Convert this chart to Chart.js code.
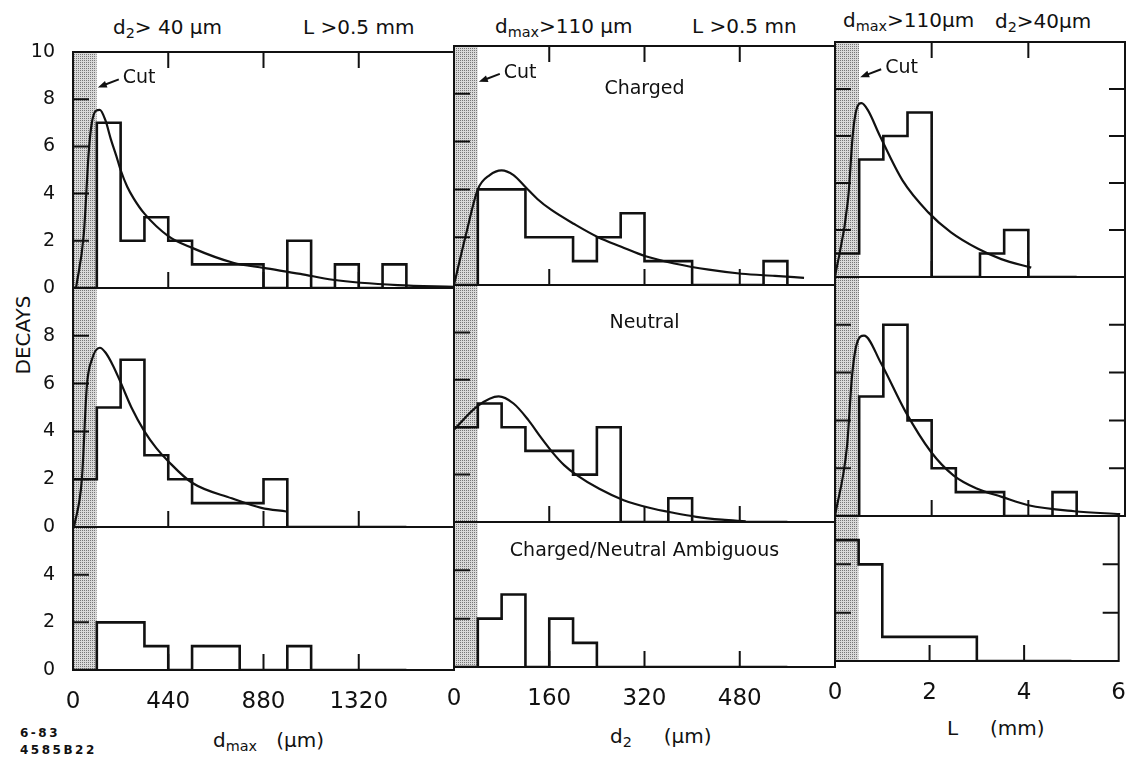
<!DOCTYPE html>
<html lang="en">
<head>
<meta charset="UTF-8">
<title>Decay length distributions</title>
<script src="https://cdn.jsdelivr.net/npm/chart.js"></script>
<style>
  body { margin: 0; background: #fff; }
  #wrap { position: relative; width: 1144px; height: 764px; font-family: 'DejaVu Sans', sans-serif; color: #111; }
  #wrap canvas { position: absolute; left: 0; top: 0; }
  .t { position: absolute; font-size: 20px; line-height: 20px; white-space: nowrap; }
  .t sub { font-size: 0.72em; position: relative; top: 0.3em; vertical-align: baseline; line-height: 0; }
  #decays { left: 23px; top: 335px; transform: translate(-50%, -50%) rotate(-90deg); }
  .note { position: absolute; left: 20px; top: 725px; font-size: 12px; font-weight: bold; letter-spacing: 2.5px; line-height: 17px; }
</style>
</head>
<body>
<div id="wrap">
  <div class="t" style="left:113px;top:17px">d<sub>2</sub>&gt; 40 μm</div>
  <div class="t" style="left:303px;top:17px">L &gt;0.5 mm</div>
  <div class="t" style="left:495px;top:16px">d<sub>max</sub>&gt;110 μm</div>
  <div class="t" style="left:692px;top:16px">L &gt;0.5 mn</div>
  <div class="t" style="left:843px;top:10px">d<sub>max</sub>&gt;110μm</div>
  <div class="t" style="left:995px;top:11px">d<sub>2</sub>&gt;40μm</div>
  <div class="t" id="decays">DECAYS</div>
  <div class="t" style="left:213px;top:730px">d<sub>max</sub>&nbsp;&nbsp;&nbsp;(μm)</div>
  <div class="t" style="left:610px;top:726px">d<sub>2</sub>&nbsp;&nbsp;&nbsp;&nbsp;&nbsp;(μm)</div>
  <div class="t" style="left:947px;top:718px">L&nbsp;&nbsp;&nbsp;&nbsp;&nbsp;(mm)</div>
  <div class="note">6-83<br>4585B22</div>
</div>

<script>
  const ink = '#111';
  const font = "'DejaVu Sans', sans-serif";

  // bin edges (um, um, mm)
  const dmaxEdges = [0, 110, 220, 330, 440, 550, 660, 770, 880, 990, 1100, 1210, 1320, 1430, 1540];
  const d2Edges = [0, 40, 80, 120, 160, 200, 240, 280, 320, 360, 400, 440, 480, 520, 560];
  const lEdges = [0, 0.5, 1, 1.5, 2, 2.5, 3, 3.5, 4, 4.5, 5];

  // decays per bin
  const chargedDmax = [0, 7, 2, 3, 2, 1, 1, 1, 0, 2, 0, 1, 0, 1];
  const neutralDmax = [2, 5, 7, 3, 2, 1, 1, 1, 2, 0, 0, 0, 0, 0];
  const ambigDmax = [0, 2, 2, 1, 0, 1, 1, 0, 0, 1, 0, 0, 0, 0];
  const chargedD2 = [0, 4, 4, 2, 2, 1, 2, 3, 1, 1, 0, 0, 0, 1];
  const neutralD2 = [4, 5, 4, 3, 3, 2, 4, 0, 0, 1, 0, 0, 0, 0];
  const ambigD2 = [0, 2, 3, 0, 2, 1, 0, 0, 0, 0, 0, 0, 0, 0];
  const chargedL = [1, 5, 6, 7, 0, 0, 1, 2, 0, 0];
  const neutralL = [0, 5, 8, 4, 2, 1, 1, 0, 0, 1];
  const ambigL = [5, 4, 1, 1, 1, 1, 0, 0, 0, 0];

  // fitted curves, [x, decays]
  const fitChargedDmax = [[14, 0], [50, 2.3], [73, 5.8], [87, 7.0], [105, 7.5], [124, 7.55], [150, 7.1], [175, 6.3], [200, 5.6], [220, 5.0], [250, 4.3], [280, 3.8], [330, 3.15], [440, 2.2], [550, 1.7], [740, 1.07], [880, 0.85], [1050, 0.6], [1200, 0.35], [1500, 0.12], [1760, 0.05]];
  const fitNeutralDmax = [[5, 0], [41, 2.0], [64, 5.9], [87, 7.0], [124, 7.5], [150, 7.3], [185, 6.75], [220, 6.05], [270, 5.0], [330, 4.0], [385, 3.3], [440, 2.75], [550, 1.85], [733, 1.2], [870, 0.8], [985, 0.65]];
  const fitChargedD2 = [[0, 0], [20, 2.1], [40, 4.0], [60, 4.6], [80, 4.8], [100, 4.6], [120, 4.1], [140, 3.6], [163, 3.15], [202, 2.55], [242, 2.0], [281, 1.6], [322, 1.2], [370, 0.9], [428, 0.64], [483, 0.47], [539, 0.38], [588, 0.3]];
  const fitNeutralD2 = [[0, 3.9], [40, 4.9], [75, 5.3], [100, 5.0], [125, 4.3], [145, 3.6], [165, 2.95], [185, 2.4], [205, 2.0], [244, 1.4], [285, 0.92], [328, 0.6], [370, 0.38], [407, 0.22], [450, 0.1], [490, 0.03]];
  const fitChargedL = [[0, 0], [0.27, 3.3], [0.37, 6.1], [0.44, 7.1], [0.55, 7.4], [0.68, 7.1], [0.93, 6.0], [1.4, 4.1], [1.93, 2.75], [2.4, 1.9], [2.96, 1.2], [3.44, 0.76], [4.06, 0.4]];
  const fitNeutralL = [[0, 0], [0.25, 2.95], [0.35, 5.8], [0.45, 7.2], [0.6, 7.55], [0.95, 6.4], [1.45, 4.4], [1.98, 2.7], [2.45, 1.7], [2.93, 1.15], [3.45, 0.8], [4.0, 0.45], [4.95, 0.2], [5.9, 0.08]];

  // tick labels
  const dmaxTicks = [0, 440, 880, 1320];
  const d2Ticks = [0, 160, 320, 480];
  const lTicks = [0, 2, 4, 6];
  const rowTicks = [[0, 2, 4, 6, 8, 10], [0, 2, 4, 6, 8], [0, 2, 4]];
  const rowMax = [10, 10, 6];
  const panelNames = ['Charged', 'Neutral', 'Charged/Neutral Ambiguous'];
  const nameY = [8.2, 8.4, 4.8];
  const cutLabelY = 8.5;

  const columns = [
    { edges: dmaxEdges, hists: [chargedDmax, neutralDmax, ambigDmax], fits: [fitChargedDmax, fitNeutralDmax, null],
      xMax: 1760, xTicks: dmaxTicks, cut: 110, left: 73, right: 454, rows: [52, 288, 527, 670] },
    { edges: d2Edges, hists: [chargedD2, neutralD2, ambigD2], fits: [fitChargedD2, fitNeutralD2, null],
      xMax: 640, xTicks: d2Ticks, cut: 40, left: 454, right: 835, rows: [46, 285, 522, 667] },
    { edges: lEdges, hists: [chargedL, neutralL, ambigL], fits: [fitChargedL, fitNeutralL, null],
      xMax: 6, xTicks: lTicks, cut: 0.5, left: 835, right: 1125, rows: [42, 277, 516, 661] }
  ];

  const tickLen = 16;
  const yAxisW = 60, xAxisH = 40;

  // dotted shading for the cut region
  function stipple() {
    const p = document.createElement('canvas');
    p.width = 2; p.height = 2;
    const g = p.getContext('2d');
    g.fillStyle = '#d9d9d9';
    g.fillRect(0, 0, 2, 2);
    g.fillStyle = '#777';
    g.fillRect(0, 0, 1, 1);
    return g.createPattern(p, 'repeat');
  }
  const shade = stipple();

  // histogram outline: step from each bin edge, drop to 0 after the last bin
  function histPoints(edges, counts) {
    const pts = counts.map((c, i) => ({ x: edges[i], y: c }));
    pts.push({ x: edges[counts.length], y: 0 });
    return pts;
  }

  const framePlugin = {
    id: 'frame',
    afterDatasetsDraw(chart, args, o) {
      const { ctx, chartArea: a } = chart;
      const x = chart.scales.x, y = chart.scales.y;
      ctx.save();
      ctx.strokeStyle = ink;
      ctx.fillStyle = ink;
      ctx.lineWidth = 2;
      ctx.strokeRect(a.left, a.top, a.right - a.left, a.bottom - a.top);

      ctx.beginPath();
      o.xMarks.forEach(v => {
        if (v <= x.min || v >= x.max) return;
        const px = x.getPixelForValue(v);
        ctx.moveTo(px, a.bottom); ctx.lineTo(px, a.bottom - tickLen);
        if (o.top) { ctx.moveTo(px, a.top); ctx.lineTo(px, a.top + tickLen); }
      });
      o.yMarks.forEach(v => {
        if (v <= y.min || v >= y.max) return;
        const py = y.getPixelForValue(v);
        ctx.moveTo(a.left, py); ctx.lineTo(a.left + tickLen, py);
        if (o.right) { ctx.moveTo(a.right, py); ctx.lineTo(a.right - tickLen, py); }
      });
      ctx.stroke();

      ctx.textBaseline = 'middle';
      ctx.font = '19px ' + font;
      if (o.cut !== null) {
        const tx = x.getPixelForValue(o.cut) + 1, ty = y.getPixelForValue(cutLabelY);
        const sx = tx + 21, sy = ty - 8;
        const len = Math.hypot(tx - sx, ty - sy);
        const dx = (tx - sx) / len, dy = (ty - sy) / len;
        ctx.beginPath();
        ctx.moveTo(sx, sy); ctx.lineTo(tx - dx * 6, ty - dy * 6);
        ctx.stroke();
        ctx.beginPath();
        ctx.moveTo(tx, ty);
        ctx.lineTo(tx - dx * 9 - dy * 3.5, ty - dy * 9 + dx * 3.5);
        ctx.lineTo(tx - dx * 9 + dy * 3.5, ty - dy * 9 - dx * 3.5);
        ctx.closePath();
        ctx.fill();
        ctx.textAlign = 'left';
        ctx.fillText('Cut', sx + 4, sy - 1);
      }
      if (o.name) {
        ctx.textAlign = 'center';
        ctx.fillText(o.name, (a.left + a.right) / 2, y.getPixelForValue(o.nameY));
      }
      ctx.restore();
    }
  };

  const wrap = document.getElementById('wrap');

  columns.forEach((col, c) => {
    rowMax.forEach((ymax, r) => {
      const cv = document.createElement('canvas');
      cv.width = 1144;
      cv.height = 764;
      wrap.appendChild(cv);

      const showX = r === 2, showY = c === 0;

      const datasets = [{
        data: histPoints(col.edges, col.hists[r]),
        stepped: true,
        borderColor: ink,
        borderWidth: 2.6,
        pointRadius: 0,
        fill: false
      }];
      if (col.fits[r]) {
        datasets.push({
          data: col.fits[r].map(p => ({ x: p[0], y: p[1] })),
          cubicInterpolationMode: 'monotone',
          borderColor: ink,
          borderWidth: 2.2,
          pointRadius: 0,
          fill: false
        });
      }
      datasets.push({
        data: [{ x: 0, y: ymax }, { x: col.cut, y: ymax }],
        borderColor: 'transparent',
        borderWidth: 0,
        pointRadius: 0,
        backgroundColor: shade,
        fill: 'origin'
      });

      new Chart(cv, {
        type: 'line',
        data: { datasets: datasets },
        plugins: [framePlugin],
        options: {
          responsive: false,
          animation: false,
          events: [],
          layout: {
            padding: {
              left: col.left - (showY ? yAxisW : 0),
              right: 1144 - col.right,
              top: col.rows[r],
              bottom: 764 - col.rows[r + 1] - (showX ? xAxisH : 0)
            }
          },
          plugins: {
            legend: { display: false },
            tooltip: { enabled: false },
            frame: {
              xMarks: col.xTicks,
              yMarks: rowTicks[r],
              top: r === 0,
              right: c === 2,
              cut: r === 0 ? col.cut : null,
              name: c === 1 ? panelNames[r] : null,
              nameY: nameY[r]
            }
          },
          scales: {
            x: {
              type: 'linear',
              min: 0,
              max: col.xMax,
              display: showX,
              grid: { display: false, drawTicks: false },
              border: { display: false },
              afterBuildTicks: s => { s.ticks = col.xTicks.map(v => ({ value: v })); },
              afterFit: s => { if (showX) s.height = xAxisH; },
              ticks: {
                color: ink,
                font: { family: font, size: 23 },
                padding: 18,
                maxRotation: 0,
                autoSkip: false,
                callback: v => String(v)
              }
            },
            y: {
              type: 'linear',
              min: 0,
              max: ymax,
              display: showY,
              grid: { display: false, drawTicks: false },
              border: { display: false },
              afterBuildTicks: s => { s.ticks = rowTicks[r].map(v => ({ value: v })); },
              afterFit: s => { if (showY) s.width = yAxisW; },
              ticks: {
                color: ink,
                font: { family: font, size: 19 },
                padding: 18,
                callback: v => String(v)
              }
            }
          }
        }
      });
    });
  });
</script>
</body>
</html>
